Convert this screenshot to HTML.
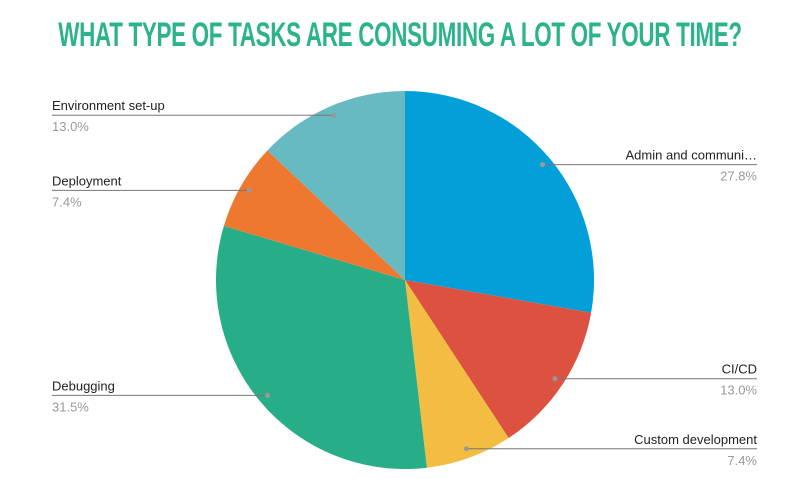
<!DOCTYPE html>
<html><head><meta charset="utf-8"><style>
body{margin:0;background:#fff;width:800px;height:479px;overflow:hidden;font-family:"Liberation Sans",sans-serif;position:relative}
#title{position:absolute;left:400px;top:16px;color:#2bb38c;font-weight:bold;font-size:34px;letter-spacing:-0.5px;white-space:nowrap;transform:translateX(-50%) scaleX(0.66);transform-origin:center}
svg{position:absolute;left:0;top:0}
</style></head><body>
<div id="title">WHAT TYPE OF TASKS ARE CONSUMING A LOT OF YOUR TIME?</div>
<svg id="chart" width="800" height="479"></svg>
<script>
const categories=["Admin and communi…","CI/CD","Custom development","Debugging","Deployment","Environment set-up"];
const values=[27.8,13.0,7.4,31.5,7.4,13.0];
const colors=["#039fd9","#dc5140","#f2bd42","#27ae88","#ef7831","#67b9c2"];
const cx=405,cy=280,r=189;
const svg=document.getElementById('chart');
const NS="http://www.w3.org/2000/svg";
const total=values.reduce((a,b)=>a+b,0);
function pt(a,rr){return [cx+rr*Math.sin(a),cy-rr*Math.cos(a)];}
let acc=0;
values.forEach((v,i)=>{
  const a0=acc/total*2*Math.PI; acc+=v; const a1=acc/total*2*Math.PI;
  const p0=pt(a0,r),p1=pt(a1,r);
  const path=document.createElementNS(NS,'path');
  path.setAttribute('d',`M${cx},${cy}L${p0[0]},${p0[1]}A${r},${r} 0 ${a1-a0>Math.PI?1:0} 1 ${p1[0]},${p1[1]}Z`);
  path.setAttribute('fill',colors[i]);
  
  
  svg.appendChild(path);
});
acc=0;
values.forEach((v,i)=>{
  const am=(acc+v/2)/total*2*Math.PI; acc+=v;
  const d=pt(am,r*0.95);
  const right=Math.sin(am)>0;
  const x2=right?757:52;
  const line=document.createElementNS(NS,'line');
  line.setAttribute('x1',d[0]);line.setAttribute('y1',d[1]);
  line.setAttribute('x2',x2);line.setAttribute('y2',d[1]);
  line.setAttribute('stroke','#777');line.setAttribute('stroke-width','1');
  
  
  svg.appendChild(line);
  const dot=document.createElementNS(NS,'circle');
  dot.setAttribute('cx',d[0]);dot.setAttribute('cy',d[1]);dot.setAttribute('r','2.5');dot.setAttribute('fill','#999');
  
  
  svg.appendChild(dot);
  const t=document.createElementNS(NS,'text');
  t.setAttribute('x',x2);t.setAttribute('y',d[1]-5);
  t.setAttribute('text-anchor',right?'end':'start');
  t.setAttribute('font-size','13');t.setAttribute('fill','#222');
  t.setAttribute('font-family','Liberation Sans, sans-serif');
  t.textContent=categories[i];
  
  
  svg.appendChild(t);
  const p=document.createElementNS(NS,'text');
  p.setAttribute('x',x2);p.setAttribute('y',d[1]+16);
  p.setAttribute('text-anchor',right?'end':'start');
  p.setAttribute('font-size','13');p.setAttribute('fill','#999');
  p.setAttribute('font-family','Liberation Sans, sans-serif');
  p.textContent=v.toFixed(1)+'%';
  
  
  svg.appendChild(p);
});
</script>
</body></html>
